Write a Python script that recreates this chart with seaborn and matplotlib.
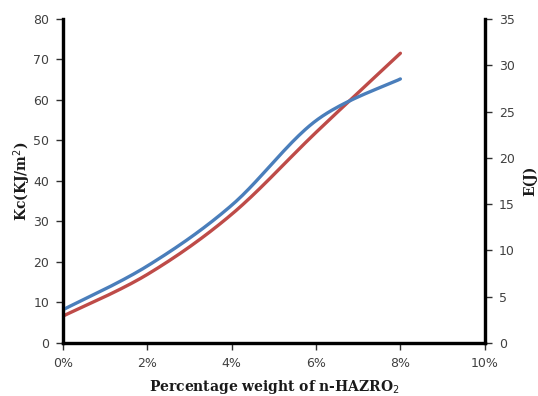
import numpy as np
import pandas as pd
import matplotlib
matplotlib.use('Agg')
import matplotlib.pyplot as plt
import seaborn as sns
from matplotlib.ticker import FuncFormatter

# Data
pct_weight = [0, 2, 4, 6, 8]                      # % weight of n-HAZRO2
kc_values = [8.2, 19.0, 34.0, 54.9, 65.2]         # Kc (KJ/m2), left axis
e_values = [2.9, 7.4, 13.9, 22.75, 31.3]          # E (J), right axis

x_ticks = [0, 2, 4, 6, 8, 10]
left_ticks = [0, 10, 20, 30, 40, 50, 60, 70, 80]
right_ticks = [0, 5, 10, 15, 20, 25, 30, 35]

blue = '#4a7ebb'
red = '#be4b48'


def smooth_line(xs, ys, steps=40):
    # Excel style smoothed line (Catmull-Rom bezier between the points)
    p = np.column_stack([xs, ys]).astype(float)
    p = np.vstack([p[0], p, p[-1]])
    out = []
    for i in range(1, len(p) - 2):
        p0, p1, p2, p3 = p[i - 1], p[i], p[i + 1], p[i + 2]
        c1 = p1 + (p2 - p0) / 6.0
        c2 = p2 - (p3 - p1) / 6.0
        t = np.linspace(0, 1, steps)[:, None]
        seg = ((1 - t) ** 3) * p1 + 3 * ((1 - t) ** 2) * t * c1 + 3 * (1 - t) * t ** 2 * c2 + t ** 3 * p2
        out.append(seg if i == 1 else seg[1:])
    out = np.vstack(out)
    return pd.DataFrame({'x': out[:, 0], 'y': out[:, 1]})


sns.set_style('white')
plt.rcParams['font.family'] = ['DejaVu Sans']

fig = plt.figure(figsize=(5.38, 3.96), dpi=100)
ax = fig.add_axes([0.117, 0.134, 0.784, 0.818])
ax2 = ax.twinx()

kc_curve = smooth_line(pct_weight, kc_values)
e_curve = smooth_line(pct_weight, e_values)

sns.lineplot(data=kc_curve, x='x', y='y', ax=ax, color=blue, lw=2.4, sort=False)
sns.lineplot(data=e_curve, x='x', y='y', ax=ax2, color=red, lw=2.4, sort=False)
# keep blue line on top like the reference
ax.set_zorder(ax2.get_zorder() + 1)
ax.patch.set_visible(False)

ax.set_xlim(0, 10)
ax.set_ylim(0, 80)
ax2.set_ylim(0, 35)
ax.set_xticks(x_ticks)
ax.set_yticks(left_ticks)
ax2.set_yticks(right_ticks)
ax.xaxis.set_major_formatter(FuncFormatter(lambda v, _: f'{int(v)}%'))

for a in (ax, ax2):
    for s in a.spines.values():
        s.set_linewidth(2.3)
        s.set_color('black')
    a.spines['top'].set_visible(False)

tick_kw = dict(labelsize=9, labelcolor='#404040', color='#303030', length=5, width=1.0, direction='out')
ax.tick_params(axis='x', bottom=True, pad=5, **tick_kw)
ax.tick_params(axis='y', left=True, pad=5, **tick_kw)
ax2.tick_params(axis='y', right=True, pad=5, **tick_kw)

label_font = dict(family='DejaVu Serif', fontweight='bold', fontsize=10, color='#1a1a1a')
ax.set_xlabel('Percentage weight of n-HAZRO$_2$', labelpad=6, **label_font)
ax.set_ylabel('Kc(KJ/m$^2$)', labelpad=0, **label_font)
ax2.set_ylabel('E(J)', labelpad=6, **label_font)
ax.grid(False)
ax2.grid(False)

fig.savefig('out.png', dpi=100)
